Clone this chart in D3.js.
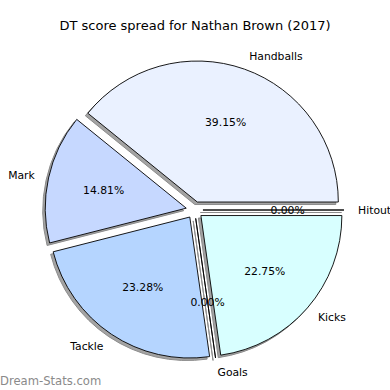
<!DOCTYPE html>
<html>
<head>
<meta charset="utf-8">
<script src="https://cdn.jsdelivr.net/npm/d3@7"></script>
<style>
  body { margin: 0; background: #fff; }
  text { font-family: "DejaVu Sans", sans-serif; }
</style>
</head>
<body>
<svg id="chart"></svg>
<script>
// Chart data
const categories = ["Handballs", "Mark", "Tackle", "Goals", "Kicks", "Hitout"];
const shares = [39.15, 14.81, 23.28, 0.00, 22.75, 0.00];
const colors = ["#eaf1ff", "#c6d8ff", "#b5d5ff", "#c0e8ff", "#d8ffff", "#e0f4ff"];

const width = 390;
const height = 390;

const svg = d3.select("#chart")
    .attr("width", width)
    .attr("height", height);

// radius 1 (data units) -> pixels
const rad = d3.scaleLinear().domain([0, 1]).range([0, 141]);
const cx = 194.5, cy = 210;
const explode = 0.06;

// counterclockwise from 3 o'clock, like matplotlib
const pie = d3.pie()
    .sort(null)
    .value(d => d.value)
    .startAngle(Math.PI / 2)
    .endAngle(Math.PI / 2 - 2 * Math.PI);

const data = categories.map((c, i) => ({ name: c, value: shares[i], color: colors[i] }));
const arcs = pie(data);

const arc = d3.arc().innerRadius(0).outerRadius(rad(1));

// offset of a wedge along its middle direction
function shift(d, k) {
    const a = (d.startAngle + d.endAngle) / 2;
    return [Math.sin(a) * rad(k), -Math.cos(a) * rad(k)];
}

const pieG = svg.append("g").attr("transform", `translate(${cx},${cy})`);

// shadows behind all wedges
pieG.selectAll(".shadow")
    .data(arcs)
    .enter().append("path")
    .attr("class", "shadow")
    .attr("transform", d => {
        const [x, y] = shift(d, explode);
        return `translate(${x - 2.5},${y + 2.5})`;
    })
    .attr("d", arc)
    .attr("fill", "#8c8c8c")
    .attr("fill-opacity", 0.8)
    .attr("stroke", "#8c8c8c")
    .attr("stroke-width", 1);

// wedges
pieG.selectAll(".wedge")
    .data(arcs)
    .enter().append("path")
    .attr("class", "wedge")
    .attr("transform", d => {
        const [x, y] = shift(d, explode);
        return `translate(${x},${y})`;
    })
    .attr("d", arc)
    .attr("fill", d => d.data.color)
    .attr("stroke", "#000")
    .attr("stroke-width", 0.9)
    .attr("stroke-linejoin", "miter");

// category labels at 1.1 r
pieG.selectAll(".label")
    .data(arcs)
    .enter().append("text")
    .attr("class", "label")
    .attr("x", d => shift(d, explode)[0] + shift(d, 1.1)[0])
    .attr("y", d => shift(d, explode)[1] + shift(d, 1.1)[1])
    .attr("dy", "0.35em")
    .attr("text-anchor", d => shift(d, 1)[0] >= 0 ? "start" : "end")
    .attr("font-size", 10.8)
    .attr("fill", "#000")
    .text(d => d.data.name);

// percentages at 0.6 r
pieG.selectAll(".pct")
    .data(arcs)
    .enter().append("text")
    .attr("class", "pct")
    .attr("x", d => shift(d, explode)[0] + shift(d, 0.6)[0])
    .attr("y", d => shift(d, explode)[1] + shift(d, 0.6)[1])
    .attr("dy", "0.35em")
    .attr("text-anchor", "middle")
    .attr("font-size", 10.8)
    .attr("fill", "#000")
    .text(d => d.data.value.toFixed(2) + "%");

// title
svg.append("text")
    .attr("x", 195)
    .attr("y", 30)
    .attr("text-anchor", "middle")
    .attr("font-size", 13)
    .attr("fill", "#000")
    .text("DT score spread for Nathan Brown (2017)");

// watermark
svg.append("text")
    .attr("x", 0)
    .attr("y", 385)
    .attr("font-size", 11.6)
    .attr("fill", "#8a8a8a")
    .text("Dream-Stats.com");
</script>
</body>
</html>
